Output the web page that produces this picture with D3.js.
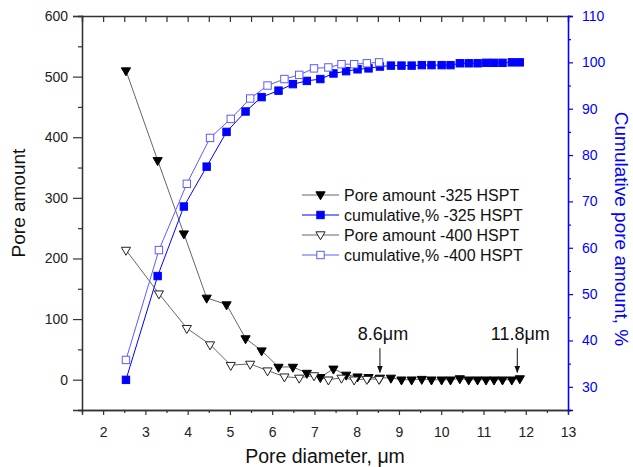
<!DOCTYPE html>
<html>
<head>
<meta charset="utf-8">
<script src="https://cdn.jsdelivr.net/npm/d3@7"></script>
<style>
  body { margin: 0; background: #fff; }
  svg { font-family: "Liberation Sans", Arial, sans-serif; }
</style>
</head>
<body>
<svg id="chart" width="633" height="467"></svg>
<script>
// -325 HSPT powder
const dia325 = [2.54, 3.29, 3.91, 4.45, 4.92, 5.37, 5.75, 6.15, 6.49, 6.82, 7.14, 7.45, 7.75, 8.02, 8.28, 8.55,
  8.81, 9.06, 9.30, 9.54, 9.77, 10.01, 10.22, 10.44, 10.65, 10.86, 11.06, 11.25, 11.45, 11.67, 11.86];
const pore325 = [510, 362, 241, 135, 124, 68, 48, 21, 21, 11, 4, 18, 8, 5, 4, 3,
  3, 0, 0, 1, 0, 0, 0, 2, 0, 0, 0, 0, 0, 0, 2];
const cum325 = [31.5, 53.9, 68.9, 77.5, 85.0, 89.4, 92.5, 93.9, 95.3, 96.0, 96.4, 97.6, 98.1, 98.5, 98.7, 99.1,
  99.3, 99.3, 99.3, 99.4, 99.4, 99.4, 99.4, 99.8, 99.8, 99.8, 99.9, 99.9, 99.9, 100, 100];

// -400 HSPT powder
const dia400 = [2.54, 3.32, 3.98, 4.53, 5.02, 5.48, 5.89, 6.29, 6.64, 6.99, 7.33, 7.64, 7.94, 8.24, 8.53];
const pore400 = [214, 142, 85, 58, 24, 26, 15, 5, 3, 7, 0, 3, 0, 1, 1];
const cum400 = [35.8, 59.5, 73.8, 83.7, 87.8, 92.2, 95.0, 96.4, 97.3, 98.7, 98.9, 99.6, 99.6, 99.8, 100];

const legendLabels = ["Pore amount -325 HSPT", "cumulative,% -325 HSPT", "Pore amount -400 HSPT", "cumulative,% -400 HSPT"];
const notes = [{ x: 8.55, label: "8.6\u03bcm" }, { x: 11.8, label: "11.8\u03bcm" }];

const width = 633, height = 467;
const margin = { top: 16, right: 65, bottom: 57, left: 82 };
const axisColor = "#333";
const blue = "#0000ff";
const lightBlue = "#5c5cff";
const gray = "#666";

const svg = d3.select("#chart");

const x = d3.scaleLinear().domain([1.5, 13]).range([margin.left, width - margin.right]);
const yL = d3.scaleLinear().domain([-50, 600]).range([height - margin.bottom, margin.top]);
const yR = d3.scaleLinear().domain([25, 110]).range([height - margin.bottom, margin.top]);

const xMajor = d3.range(2, 13.01, 1);
const xMinor = d3.range(1.5, 13.01, 0.5).filter(v => !Number.isInteger(v));
const yLMajor = d3.range(0, 601, 100);
const yLMinor = d3.range(-50, 601, 100);
const yRMajor = d3.range(30, 111, 10);
const yRMinor = d3.range(25, 111, 10);

function styleAxis(g, color) {
  g.select(".domain").attr("stroke", color).attr("stroke-width", 1.3);
  g.selectAll(".tick line").attr("stroke", color).attr("stroke-width", 1.2);
  g.selectAll(".tick text").attr("fill", color === axisColor ? "#222" : color).attr("font-size", 14);
}

// bottom axis
svg.append("g").attr("transform", `translate(0,${height - margin.bottom})`)
  .call(d3.axisBottom(x).tickValues(xMinor).tickSize(3).tickFormat(""))
  .call(g => styleAxis(g, axisColor));
svg.append("g").attr("transform", `translate(0,${height - margin.bottom})`)
  .call(d3.axisBottom(x).tickValues(xMajor).tickSize(5).tickPadding(12).tickFormat(d3.format("d")))
  .call(g => styleAxis(g, axisColor));

// top axis (ticks inward, no labels)
svg.append("g").attr("transform", `translate(0,${margin.top})`)
  .call(d3.axisBottom(x).tickValues(xMajor.concat(xMinor)).tickSize(6).tickFormat(""))
  .call(g => styleAxis(g, axisColor));

// left axis
svg.append("g").attr("transform", `translate(${margin.left},0)`)
  .call(d3.axisLeft(yL).tickValues(yLMinor).tickSize(4).tickFormat(""))
  .call(g => styleAxis(g, axisColor));
svg.append("g").attr("transform", `translate(${margin.left},0)`)
  .call(d3.axisLeft(yL).tickValues(yLMajor).tickSize(9).tickPadding(5).tickFormat(d3.format("d")))
  .call(g => styleAxis(g, axisColor));

// right axis
svg.append("g").attr("transform", `translate(${width - margin.right},0)`)
  .call(d3.axisRight(yR).tickValues(yRMinor).tickSize(3).tickFormat(""))
  .call(g => styleAxis(g, blue));
svg.append("g").attr("transform", `translate(${width - margin.right},0)`)
  .call(d3.axisRight(yR).tickValues(yRMajor).tickSize(5).tickPadding(9).tickFormat(d3.format("d")))
  .call(g => styleAxis(g, blue));

// axis titles
svg.append("text")
  .attr("transform", `translate(25,${(margin.top + height - margin.bottom) / 2 - 10}) rotate(-90)`)
  .attr("text-anchor", "middle").attr("font-size", 19).attr("fill", "#111")
  .text("Pore amount");
svg.append("text")
  .attr("x", (margin.left + width - margin.right) / 2).attr("y", 463)
  .attr("text-anchor", "middle").attr("font-size", 19.5).attr("fill", "#111")
  .text("Pore diameter, \u03bcm");
svg.append("text")
  .attr("transform", `translate(615,${(margin.top + height - margin.bottom) / 2 + 16}) rotate(90)`)
  .attr("text-anchor", "middle").attr("font-size", 19).attr("fill", blue)
  .text("Cumulative pore amount, %");

// markers
const downTri = "M-4.6,-2.7L4.6,-2.7L0,5.3Z";
const sq = 7.4;

function series(xs, ys, yScale, lineColor, marker) {
  const pts = xs.map((d, i) => [d, ys[i]]);
  svg.append("path").datum(pts)
    .attr("fill", "none").attr("stroke", lineColor).attr("stroke-width", 1)
    .attr("d", d3.line().x(d => x(d[0])).y(d => yScale(d[1])));
  return pts;
}

const p325 = series(dia325, pore325, yL, gray);
const c325 = series(dia325, cum325, yR, blue);
const p400 = series(dia400, pore400, yL, gray);
const c400 = series(dia400, cum400, yR, lightBlue);

function drawTri(pts, yScale, fill) {
  svg.append("g").selectAll("path").data(pts).join("path")
    .attr("d", downTri)
    .attr("transform", d => `translate(${x(d[0])},${yScale(d[1])})`)
    .attr("fill", fill).attr("stroke", fill === "#000" ? "#000" : "#222").attr("stroke-width", 1);
}
function drawSq(pts, yScale, fill, stroke) {
  svg.append("g").selectAll("rect").data(pts).join("rect")
    .attr("x", d => x(d[0]) - sq / 2).attr("y", d => yScale(d[1]) - sq / 2)
    .attr("width", sq).attr("height", sq)
    .attr("fill", fill).attr("stroke", stroke).attr("stroke-width", 1);
}

drawTri(p325, yL, "#000");
drawSq(c325, yR, blue, blue);
drawTri(p400, yL, "#fff");
drawSq(c400, yR, "#fff", lightBlue);

// legend
const legend = svg.append("g").attr("transform", "translate(302,195)");
const legendItems = [
  { color: gray, kind: "tri", fill: "#000" },
  { color: blue, kind: "sq", fill: blue, stroke: blue },
  { color: gray, kind: "tri", fill: "#fff" },
  { color: lightBlue, kind: "sq", fill: "#fff", stroke: lightBlue }
];
legendItems.forEach((it, i) => {
  const g = legend.append("g").attr("transform", `translate(0,${i * 20})`);
  g.append("line").attr("x1", 0).attr("x2", 37).attr("stroke", it.color).attr("stroke-width", 1);
  if (it.kind === "tri") {
    g.append("path").attr("d", downTri).attr("transform", "translate(18.5,-0.5)")
      .attr("fill", it.fill).attr("stroke", it.fill === "#000" ? "#000" : "#222");
  } else {
    g.append("rect").attr("x", 18.5 - sq / 2).attr("y", -sq / 2).attr("width", sq).attr("height", sq)
      .attr("fill", it.fill).attr("stroke", it.stroke);
  }
  g.append("text").attr("x", 42).attr("dy", "0.35em").attr("font-size", 16).attr("fill", "#111")
    .text(legendLabels[i]);
});

// annotations
svg.append("defs").append("marker")
  .attr("id", "arrow").attr("viewBox", "0 0 10 10").attr("refX", 9).attr("refY", 5)
  .attr("markerWidth", 7).attr("markerHeight", 7).attr("orient", "auto")
  .append("path").attr("d", "M0,1L10,5L0,9Z").attr("fill", "#111");

notes.forEach(n => {
  svg.append("text").attr("x", x(n.x) + 3).attr("y", yL(66))
    .attr("text-anchor", "middle").attr("font-size", 18).attr("fill", "#111").text(n.label);
  svg.append("line").attr("x1", x(n.x)).attr("x2", x(n.x))
    .attr("y1", yL(52)).attr("y2", yL(12))
    .attr("stroke", "#111").attr("stroke-width", 1).attr("marker-end", "url(#arrow)");
});
</script>
</body>
</html>
